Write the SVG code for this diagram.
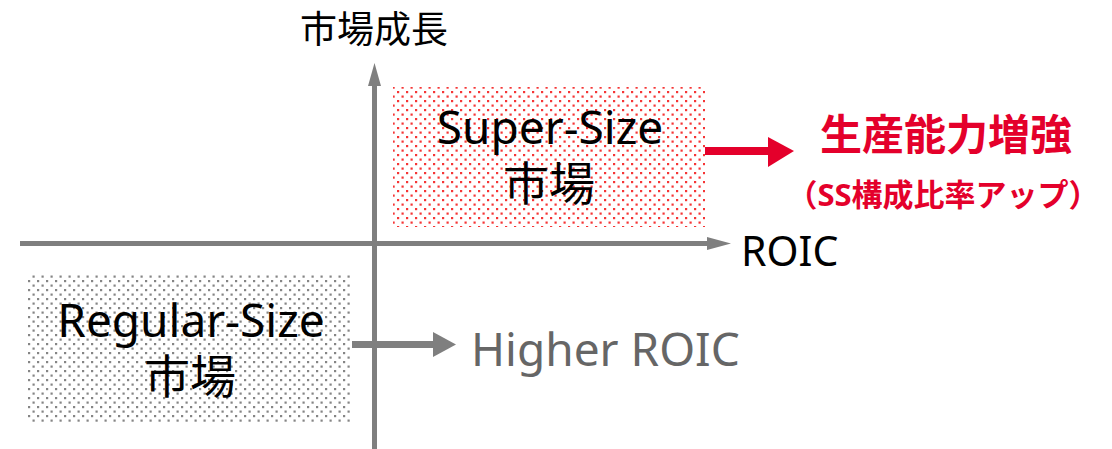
<svg xmlns="http://www.w3.org/2000/svg" width="1112" height="449" viewBox="0 0 1112 449">
<style>
.t{font-family:"Noto Sans","Noto Sans CJK JP",sans-serif;}
.box-label{font-size:46px;fill:#000;text-anchor:middle;}
.ax{stroke:#7f7f7f;fill:none;}
</style>
<defs>
<pattern id="redDots" width="9" height="9" patternUnits="userSpaceOnUse">
<rect x="1" y="1" width="2.2" height="2.2" fill="#f53535"/>
<rect x="5.5" y="5.5" width="2.2" height="2.2" fill="#f53535"/>
</pattern>
<pattern id="grayDots" width="9" height="9" patternUnits="userSpaceOnUse">
<rect x="1" y="1" width="2.2" height="2.2" fill="#858585"/>
<rect x="5.5" y="5.5" width="2.2" height="2.2" fill="#858585"/>
</pattern>
</defs>
<rect width="1112" height="449" fill="#fff"/>
<g id="axes">
<line class="ax" x1="374.5" y1="449" x2="374.5" y2="84" stroke-width="5"/>
<polygon points="368,86 381,86 374.5,63" fill="#7f7f7f"/>
<line class="ax" x1="20" y1="243.5" x2="710" y2="243.5" stroke-width="5"/>
<polygon points="707,237 707,250 731,243.5" fill="#7f7f7f"/>
<text class="t" x="374" y="43" font-size="37" text-anchor="middle" fill="#000">市場成長</text>
<text class="t" x="741" y="266" font-size="41" fill="#000">ROIC</text>
</g>
<g id="super-size">
<rect x="393" y="87" width="312" height="140" fill="url(#redDots)"/>
<text class="t box-label" x="550" y="144">Super-Size</text>
<text class="t box-label" x="549" y="200" font-size="40">市場</text>
</g>
<g id="regular-size">
<rect x="28" y="275" width="324" height="149" fill="url(#grayDots)"/>
<text class="t box-label" x="191" y="337">Regular-Size</text>
<text class="t box-label" x="190" y="393" font-size="40">市場</text>
</g>
<g id="connectors">
<line x1="705" y1="151" x2="770" y2="151" stroke="#e4002b" stroke-width="8"/>
<polygon points="768,137 768,167 794,151" fill="#e4002b"/>
<line x1="352" y1="344.5" x2="435" y2="344.5" stroke="#7f7f7f" stroke-width="7"/>
<polygon points="433,332 433,357 456,344.5" fill="#7f7f7f"/>
</g>
<g id="result">
<text class="t" x="946" y="150" font-size="42" font-weight="bold" fill="#e4002b" text-anchor="middle">生産能力増強</text>
<text class="t" x="943" y="206" font-size="31" font-weight="bold" fill="#e4002b" text-anchor="middle">（SS構成比率アップ）</text>
</g>
<g id="higher-roic">
<text class="t" x="471" y="366" font-size="46" fill="#666">Higher ROIC</text>
</g>
</svg>
